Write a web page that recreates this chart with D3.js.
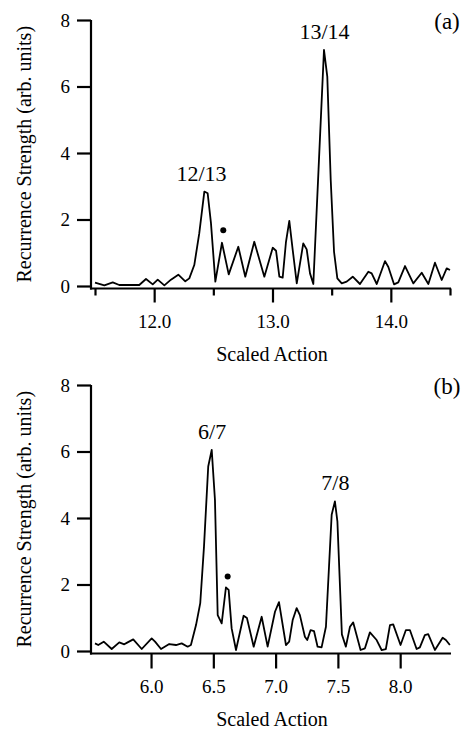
<!DOCTYPE html>
<html lang="en">
<head>
<meta charset="UTF-8">
<title>Recurrence spectra</title>
<script src="https://d3js.org/d3.v7.min.js"></script>
<style>
  body { margin: 0; background: #fff; }
  .axis line, .axis path { stroke: #000; stroke-width: 2.2; }
  .axis text { font-size: 19px; fill: #000; }
</style>
</head>
<body>
<svg width="471" height="732"></svg>
<script>
// panel (a): scaled action vs recurrence strength
var actionA = [11.500, 11.579, 11.650, 11.705, 11.776, 11.874, 11.931, 11.988, 12.030, 12.086,
  12.142, 12.204, 12.263, 12.297, 12.339, 12.381, 12.424, 12.452, 12.480, 12.517,
  12.573, 12.630, 12.711, 12.770, 12.846, 12.931, 13.002, 13.030, 13.058, 13.086,
  13.114, 13.142, 13.171, 13.205, 13.260, 13.289, 13.317, 13.345, 13.389, 13.435,
  13.463, 13.492, 13.520, 13.548, 13.585, 13.627, 13.678, 13.739, 13.810, 13.838,
  13.881, 13.951, 13.979, 14.027, 14.063, 14.120, 14.190, 14.261, 14.317, 14.373,
  14.430, 14.472, 14.500];
var strengthA = [0.10, 0.02, 0.11, 0.03, 0.03, 0.03, 0.21, 0.05, 0.19, 0.02,
  0.19, 0.34, 0.14, 0.23, 0.63, 1.58, 2.84, 2.79, 1.89, 0.13,
  1.30, 0.35, 1.18, 0.28, 1.33, 0.28, 1.15, 1.06, 0.28, 0.25,
  1.33, 1.96, 1.08, 0.08, 1.28, 1.10, 0.38, 0.06, 3.50, 7.10,
  6.30, 3.19, 1.03, 0.23, 0.08, 0.13, 0.28, 0.06, 0.43, 0.38,
  0.06, 0.75, 0.57, 0.05, 0.11, 0.60, 0.08, 0.40, 0.06, 0.70,
  0.18, 0.53, 0.48];

// panel (b)
var actionB = [5.550, 5.576, 5.620, 5.684, 5.745, 5.785, 5.812, 5.857, 5.925, 6.005,
  6.032, 6.080, 6.146, 6.200, 6.246, 6.294, 6.320, 6.361, 6.395, 6.425,
  6.459, 6.487, 6.513, 6.535, 6.567, 6.601, 6.623, 6.647, 6.682, 6.743,
  6.770, 6.824, 6.888, 6.936, 6.995, 7.027, 7.083, 7.109, 7.137, 7.169,
  7.195, 7.235, 7.254, 7.281, 7.308, 7.337, 7.369, 7.404, 7.450, 7.476,
  7.496, 7.532, 7.564, 7.597, 7.623, 7.682, 7.717, 7.757, 7.811, 7.851,
  7.885, 7.918, 7.944, 8.003, 8.046, 8.078, 8.132, 8.158, 8.198, 8.225,
  8.279, 8.341, 8.367, 8.399];
var strengthB = [0.23, 0.18, 0.28, 0.06, 0.26, 0.20, 0.26, 0.35, 0.06, 0.38,
  0.28, 0.06, 0.21, 0.18, 0.23, 0.13, 0.18, 0.78, 1.44, 3.14,
  5.55, 6.05, 4.55, 1.08, 0.83, 1.91, 1.84, 0.68, 0.03, 1.06,
  0.99, 0.13, 1.03, 0.13, 1.18, 1.47, 0.18, 0.28, 0.93, 1.29,
  1.08, 0.43, 0.33, 0.63, 0.60, 0.13, 0.11, 0.73, 4.10, 4.50,
  3.90, 0.50, 0.13, 0.73, 0.86, 0.03, 0.08, 0.56, 0.33, 0.03,
  0.06, 0.78, 0.80, 0.18, 0.63, 0.63, 0.06, 0.11, 0.48, 0.51,
  0.03, 0.40, 0.33, 0.18];

var yTicks = [0, 2, 4, 6, 8];
var majorTicksA = [12, 13, 14];
var minorTicksA = [11.5, 12.5, 13.5, 14.5];
var ticksB = [6.0, 6.5, 7.0, 7.5, 8.0];

// peak labels and marked points
var peakLabelsA = [{ text: "12/13", x: 12.40, y: 2.84 }, { text: "13/14", x: 13.44, y: 7.10 }];
var peakLabelsB = [{ text: "6/7", x: 6.49, y: 6.05 }, { text: "7/8", x: 7.48, y: 4.50 }];
var dotA = [{ x: 12.584, y: 1.68 }];
var dotB = [{ x: 6.615, y: 2.24 }];

var svg = d3.select("svg");

function drawPanel(p) {
  var x = d3.scaleLinear().domain(p.xDomain).range([95, 450]);
  var y = d3.scaleLinear().domain([0, 8]).range([p.y0, p.y0 - 266]);
  var axisY = p.y0 + 2.5;  // x axis sits just under zero
  var g = svg.append("g");

  // y axis
  var ya = g.append("g").attr("class", "axis").attr("transform", "translate(91,0)")
    .call(d3.axisLeft(y).tickValues(yTicks).tickSize(14).tickPadding(7).tickSizeOuter(0));
  ya.select(".domain").remove();
  ya.selectAll("text").attr("dy", "0.34em");
  g.append("line")
    .attr("x1", 91).attr("x2", 91).attr("y1", y(8)).attr("y2", axisY + 1)
    .attr("stroke", "#000").attr("stroke-width", 2.2);

  // x axis
  var xa = g.append("g").attr("class", "axis").attr("transform", "translate(0," + axisY + ")")
    .call(d3.axisBottom(x).tickValues(p.major).tickSize(p.majorLen).tickPadding(p.pad)
      .tickFormat(d3.format(".1f")).tickSizeOuter(0));
  xa.select(".domain").remove();
  if (p.minor) {
    var xm = g.append("g").attr("class", "axis").attr("transform", "translate(0," + axisY + ")")
      .call(d3.axisBottom(x).tickValues(p.minor).tickSize(7).tickFormat("").tickSizeOuter(0));
    xm.select(".domain").remove();
  }
  g.append("line")
    .attr("x1", 90).attr("x2", 451).attr("y1", axisY).attr("y2", axisY)
    .attr("stroke", "#000").attr("stroke-width", 2.2);

  // curve
  var pts = p.xs.map(function (d, i) { return [d, p.ys[i]]; });
  g.append("path").datum(pts)
    .attr("fill", "none").attr("stroke", "#000").attr("stroke-width", 1.8)
    .attr("stroke-linejoin", "round")
    .attr("d", d3.line().x(function (d) { return x(d[0]); }).y(function (d) { return y(d[1]); }));

  g.selectAll("circle.mark").data(p.dots).enter().append("circle")
    .attr("cx", function (d) { return x(d.x); })
    .attr("cy", function (d) { return y(d.y); })
    .attr("r", 3).attr("fill", "#000");

  g.selectAll("text.peak").data(p.peaks).enter().append("text")
    .attr("x", function (d) { return x(d.x); })
    .attr("y", function (d) { return y(d.y) - 11; })
    .attr("text-anchor", "middle").attr("font-size", 22)
    .text(function (d) { return d.text; });

  g.append("text").attr("x", 447).attr("y", p.y0 - 257).attr("text-anchor", "middle")
    .attr("font-size", 23).text(p.tag);

  g.append("text").attr("x", 272).attr("y", axisY + 72).attr("text-anchor", "middle")
    .attr("font-size", 20).text("Scaled Action");

  g.append("text")
    .attr("transform", "translate(31," + ((y(8) + axisY) / 2) + ") rotate(-90)")
    .attr("text-anchor", "middle").attr("font-size", 20)
    .text("Recurrence Strength (arb. units)");
}

drawPanel({
  xDomain: [11.5, 14.5], y0: 286, xs: actionA, ys: strengthA,
  major: majorTicksA, minor: minorTicksA, majorLen: 14, pad: 12,
  dots: dotA, peaks: peakLabelsA, tag: "(a)"
});
drawPanel({
  xDomain: [5.55, 8.4], y0: 651, xs: actionB, ys: strengthB,
  major: ticksB, minor: null, majorLen: 15, pad: 11,
  dots: dotB, peaks: peakLabelsB, tag: "(b)"
});

// serif everywhere, like the printed figure
svg.selectAll("text").style("font-family", "Liberation Serif").style("fill", "#000");
</script>
</body>
</html>
